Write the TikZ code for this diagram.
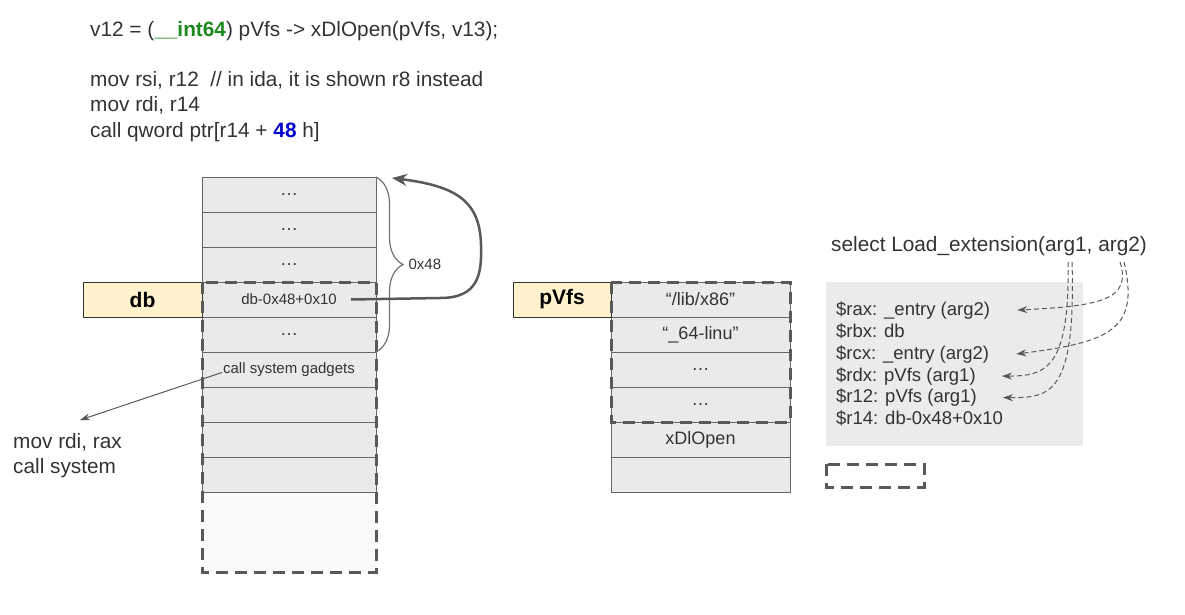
\documentclass[tikz,border=0pt]{standalone}
\usepackage{fontspec}
\setmainfont{Liberation Sans}
\usepackage{tikz}
\usetikzlibrary{arrows.meta,decorations.pathreplacing}

\definecolor{ink}{HTML}{333333}
\definecolor{edge}{HTML}{595959}
\definecolor{celledge}{HTML}{666666}
\definecolor{cellgray}{HTML}{EAEAEA}
\definecolor{tagyellow}{HTML}{FFF2CC}
\definecolor{intgreen}{HTML}{1E8A1E}
\definecolor{numblue}{HTML}{0000CC}
\definecolor{panelgray}{HTML}{EBEBEB}

\newcommand{\codefont}{\fontsize{20.8}{25}\selectfont}
\newcommand{\smallcellfont}{\fontsize{15}{18}\selectfont}
\newcommand{\cellfont}{\fontsize{18}{21}\selectfont}
\newcommand{\tagfont}{\fontsize{21}{25}\selectfont\bfseries}
\newcommand{\regfont}{\fontsize{18.5}{22}\selectfont}

\begin{document}
\begin{tikzpicture}[x=1pt,y=-1pt,
  cell/.style={draw=celledge, fill=cellgray, line width=1pt, inner sep=0pt, outer sep=0pt, minimum height=35pt, text=ink},
  tag/.style={draw=ink, fill=tagyellow, line width=1pt, inner sep=0pt, outer sep=0pt, minimum height=35pt, font=\tagfont, text=black},
  dashbox/.style={draw=edge, line width=3pt, dash pattern=on 12pt off 7pt},
  code/.style={anchor=base west, inner sep=0pt, text=ink, font=\codefont},
  reg/.style={anchor=base west, inner sep=0pt, text=ink, font=\regfont},
  argline/.style={draw=edge, line width=1pt, dash pattern=on 5pt off 3pt, -{Stealth[length=10pt,width=7pt]}}]
  \useasboundingbox (0,0) rectangle (1185,615);

  % source and assembly
  \draw (90,37) node[code] (c1) {v12 = (\textcolor{intgreen}{\textbf{\_\_int64}}) pVfs -> xDlOpen(pVfs, v13);}
   (90,87) node[code] (c2) {mov rsi, r12 \ // in ida, it is shown r8 instead}
   (90,112) node[code] (c3) {mov rdi, r14}
   (90,137) node[code] (c4) {call qword ptr[r14 + \textcolor{numblue}{\textbf{48}} h]};

  % db stack
  \fill[black!2] (202,492) rectangle (376,572);
  \draw (289,194.5) node[cell,minimum width=174pt,font=\cellfont] (s1) {…}
   (289,229.5) node[cell,minimum width=174pt,font=\cellfont] (s2) {…}
   (289,264.5) node[cell,minimum width=174pt,font=\cellfont] (s3) {…}
   (289,299.5) node[cell,minimum width=174pt,font=\smallcellfont] (s4) {db-0x48+0x10}
   (289,334.5) node[cell,minimum width=174pt,font=\cellfont] (s5) {…}
   (289,369.5) node[cell,minimum width=174pt,font=\smallcellfont] (s6) {call system gadgets}
   (289,404.5) node[cell,minimum width=174pt] (s7) {}
   (289,439.5) node[cell,minimum width=174pt] (s8) {}
   (289,474.5) node[cell,minimum width=174pt] (s9) {};
  \draw (142.5,299.5) node[tag,minimum width=119pt] (db) {db};
  \draw[dashbox] (s4.north west) rectangle (376,572);

  \draw[decorate, decoration={brace, amplitude=27pt}, draw=edge!85, line width=1.2pt]
   (s1.north east) -- (s5.south east) node[midway, right=32pt, inner sep=0pt, text=ink, font=\smallcellfont] (off) {0x48};

  \coordinate (top) at (392,178);
  \draw[draw=edge, line width=2.5pt, -{Stealth[length=15pt,width=12pt]}]
   ([xshift=-25pt]s4.east) -- (440,298) .. controls (478,298) and (482,275) .. (481,245)
   .. controls (480,200) and (455,186) .. (top);

  \coordinate (gad) at (80,420);
  \draw[draw=edge, line width=1pt, -{Stealth[length=10pt,width=7pt]}] ([shift={(20,3)}]s6.west) -- (gad);
  \draw (13,448) node[code] (m1) {mov rdi, rax}
   (13,473) node[code] (m2) {call system};

  % pVfs stack
  \draw (700.5,299.5) node[cell,minimum width=179pt,font=\cellfont] (p1) {“/lib/x86”}
   (700.5,334.5) node[cell,minimum width=179pt,font=\cellfont] (p2) {“\_64-linu”}
   (700.5,369.5) node[cell,minimum width=179pt,font=\cellfont] (p3) {…}
   (700.5,404.5) node[cell,minimum width=179pt,font=\cellfont] (p4) {…}
   (700.5,439.5) node[cell,minimum width=179pt,font=\cellfont] (p5) {xDlOpen}
   (700.5,474.5) node[cell,minimum width=179pt] (p6) {};
  \draw (562,299.5) node[tag,minimum width=98pt] (pvfs) {pVfs};
  \draw[dashbox] (p1.north west) rectangle (p4.south east);

  % registers
  \fill[panelgray] (826,282) rectangle (1083,446);
  \draw (831,251) node[code] (sel) {select Load\_extension(arg1, arg2)};
  \draw (836,315) node[reg] (r1) {\$rax: \_entry (arg2)}
   (836,337) node[reg] (r2) {\$rbx: db}
   (836,359) node[reg] (r3) {\$rcx: \_entry (arg2)}
   (836,381) node[reg] (r4) {\$rdx: pVfs (arg1)}
   (836,402.5) node[reg] (r5) {\$r12: pVfs (arg1)}
   (836,424) node[reg] (r6) {\$r14: db-0x48+0x10};
  \draw[dashbox] (826,464) rectangle (924,487);

  \coordinate (a1) at (1068,262);
  \coordinate (a1b) at (1072,262);
  \coordinate (a2) at (1120,262);
  \coordinate (a2b) at (1124,262);
  \draw[argline] (a2) .. controls (1132,300) and (1100,306) .. ([xshift=27pt]r1.east);
  \draw[argline] (a2b) .. controls (1140,330) and (1110,342) .. ([xshift=27pt]r3.east);
  \draw[argline] (a1) .. controls (1070,370) and (1045,376) .. ([xshift=26pt]r4.east);
  \draw[argline] (a1b) .. controls (1076,395) and (1050,398) .. ([xshift=26pt]r5.east);
\end{tikzpicture}
\end{document}
